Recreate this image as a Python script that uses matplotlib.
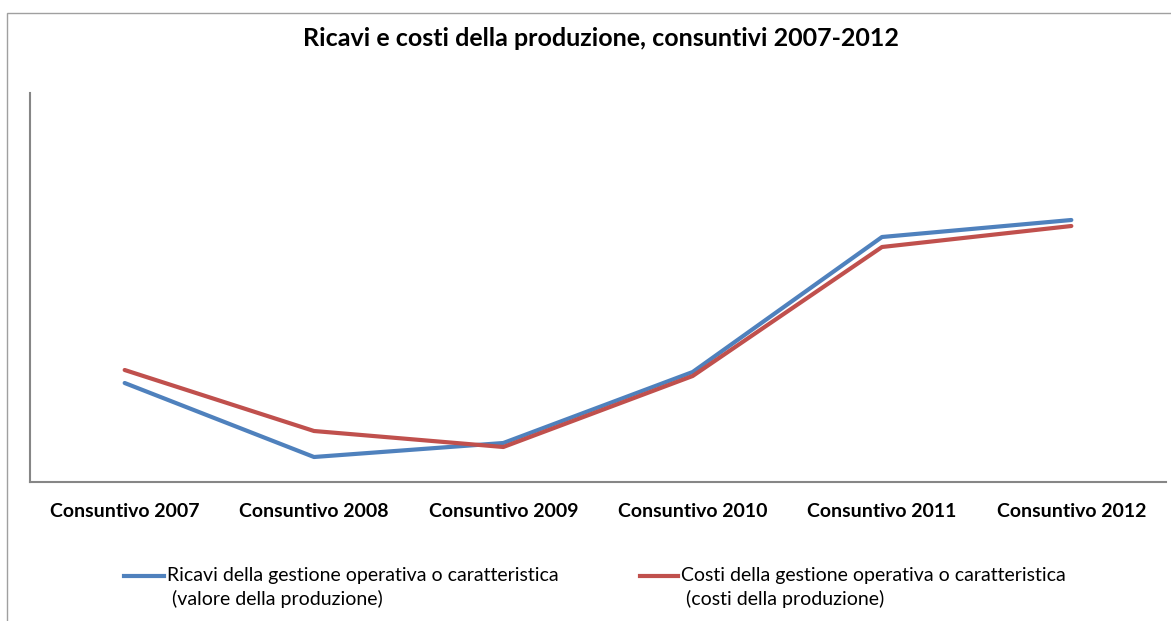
import matplotlib.pyplot as plt
from matplotlib.lines import Line2D
from matplotlib.patches import Rectangle

# Data (arbitrary units - the original has no value axis)
categories = ['Consuntivo 2007', 'Consuntivo 2008', 'Consuntivo 2009',
              'Consuntivo 2010', 'Consuntivo 2011', 'Consuntivo 2012']
ricavi = [99, 25, 39, 110, 245, 262]
costi = [112, 51, 35, 106, 235, 256]
label_ricavi = ['Ricavi della gestione operativa o caratteristica', ' (valore della produzione)']
label_costi = ['Costi della gestione operativa o caratteristica', ' (costi della produzione)']

blue = '#4F81BD'
red = '#C0504D'
W, H = 1171, 621

plt.rcParams['font.family'] = ['Lato', 'DejaVu Sans']

fig = plt.figure(figsize=(W / 100, H / 100), dpi=100)

# outer chart frame (cropped at right and bottom)
fig.add_artist(Rectangle((7 / W, -0.1), 1.2, (H - 13) / H + 0.1, transform=fig.transFigure,
                         fill=False, edgecolor='#a0a0a0', linewidth=1))

ax = fig.add_axes([30 / W, (H - 482) / H, 1136 / W, (482 - 93) / H])
x = list(range(len(categories)))
ax.plot(x, ricavi, color=blue, linewidth=3, solid_capstyle='round')
ax.plot(x, costi, color=red, linewidth=3, solid_capstyle='round')
ax.set_xlim(-0.5, len(categories) - 0.5)
ax.set_ylim(0, 389)
ax.set_xticks(x)
ax.set_xticklabels(categories, fontsize=14, fontweight='bold')
ax.tick_params(axis='x', length=0, pad=15)
ax.set_yticks([])
for s in ['top', 'right']:
    ax.spines[s].set_visible(False)
for s in ['left', 'bottom']:
    ax.spines[s].set_color('#868686')
    ax.spines[s].set_linewidth(1.5)

fig.text(601 / W, 1 - 38 / H, 'Ricavi e costi della produzione, consuntivi 2007-2012',
         ha='center', va='center', fontsize=18, fontweight='bold')

# legend drawn by hand so the line sits on the first text row
for x0, x1, col, lab in [(124, 164, blue, label_ricavi), (640, 678, red, label_costi)]:
    fig.add_artist(Line2D([x0 / W, x1 / W], [1 - 576 / H] * 2, transform=fig.transFigure,
                          color=col, linewidth=3))
    fig.text((x1 + 3) / W, 1 - 576 / H, lab[0], ha='left', va='center', fontsize=14)
    fig.text((x1 + 3) / W, 1 - 599 / H, lab[1], ha='left', va='center', fontsize=14)

fig.savefig('out.png', dpi=100)
